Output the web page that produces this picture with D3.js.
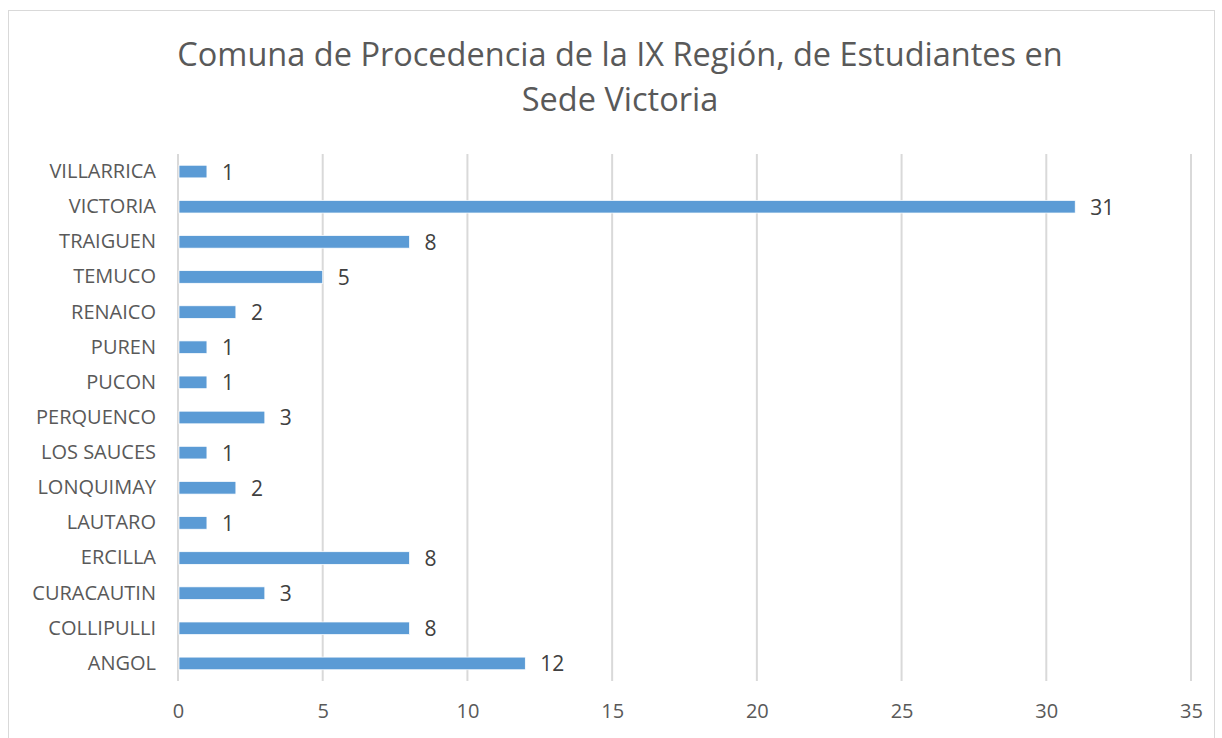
<!DOCTYPE html>
<html>
<head>
<meta charset="utf-8">
<script src="https://cdn.jsdelivr.net/npm/d3@7"></script>
<style>
  body { margin: 0; background: #fff; }
  svg text { font-family: "Open Sans", "Noto Sans", sans-serif; }
</style>
</head>
<body>
<div id="chart"></div>
<script>
// Comunas (top to bottom as drawn)
const comunas = ['VILLARRICA', 'VICTORIA', 'TRAIGUEN', 'TEMUCO', 'RENAICO', 'PUREN', 'PUCON',
  'PERQUENCO', 'LOS SAUCES', 'LONQUIMAY', 'LAUTARO', 'ERCILLA', 'CURACAUTIN', 'COLLIPULLI', 'ANGOL'];
const estudiantes = [1, 31, 8, 5, 2, 1, 1, 3, 1, 2, 1, 8, 3, 8, 12];
const xTicks = [0, 5, 10, 15, 20, 25, 30, 35];
const titleLines = ['Comuna de Procedencia de la IX Región, de Estudiantes en', 'Sede Victoria'];

const W = 1222, H = 738;
const margin = {top: 154, right: 31, bottom: 57, left: 178};
const width = W - margin.left - margin.right;
const height = H - margin.top - margin.bottom;

const svg = d3.select('#chart').append('svg')
  .attr('width', W)
  .attr('height', H);

// chart frame
svg.append('rect')
  .attr('x', 8.5).attr('y', 10.5)
  .attr('width', 1206).attr('height', 740)
  .attr('fill', '#fff')
  .attr('stroke', '#d9d9d9');

// Title
svg.append('text')
  .attr('x', 620)
  .attr('text-anchor', 'middle')
  .style('fill', '#595959')
  .style('font-size', '32.5px')
  .selectAll('tspan')
  .data(titleLines)
  .enter()
  .append('tspan')
  .attr('x', 620)
  .attr('y', (d, i) => 66 + i * 45)
  .text(d => d);

const g = svg.append('g').attr('transform', `translate(${margin.left},${margin.top})`);

const x = d3.scaleLinear().domain([0, 35]).range([0, width]);
const y = d3.scaleBand().domain(comunas).range([0, height]).paddingInner(0.64).paddingOuter(0.32);

// gridlines
g.selectAll('.grid')
  .data(xTicks)
  .enter()
  .append('line')
  .attr('x1', d => x(d)).attr('x2', d => x(d))
  .attr('y1', 0).attr('y2', height)
  .attr('stroke', '#d9d9d9')
  .attr('stroke-width', 2);

// bars
g.selectAll('.bar')
  .data(comunas)
  .enter()
  .append('rect')
  .attr('x', x(0) + 1)
  .attr('y', d => y(d))
  .attr('width', (d, i) => x(estudiantes[i]) - x(0) - 1)
  .attr('height', y.bandwidth())
  .attr('fill', '#5b9bd5')
  .attr('stroke', '#ffffff')
  .attr('stroke-width', 0.75);

// value labels
g.selectAll('.val')
  .data(comunas)
  .enter()
  .append('text')
  .attr('x', (d, i) => x(estudiantes[i]) + 15)
  .attr('y', d => y(d) + y.bandwidth() / 2)
  .attr('dy', '0.38em')
  .style('fill', '#404040')
  .style('font-size', '21px')
  .text((d, i) => estudiantes[i]);

// y axis labels
const yAxis = g.append('g')
  .call(d3.axisLeft(y).tickSize(0).tickPadding(22));
yAxis.select('.domain').remove();
yAxis.selectAll('text')
  .style('fill', '#595959')
  .style('font-size', '20px')
  .style('font-family', '"Open Sans", "Noto Sans", sans-serif');

// x axis labels
const xAxis = g.append('g')
  .attr('transform', `translate(0,${height})`)
  .call(d3.axisBottom(x).tickValues(xTicks).tickSize(0).tickPadding(23));
xAxis.select('.domain').remove();
xAxis.selectAll('text')
  .style('fill', '#595959')
  .style('font-size', '20px')
  .style('font-family', '"Open Sans", "Noto Sans", sans-serif');
</script>
</body>
</html>
